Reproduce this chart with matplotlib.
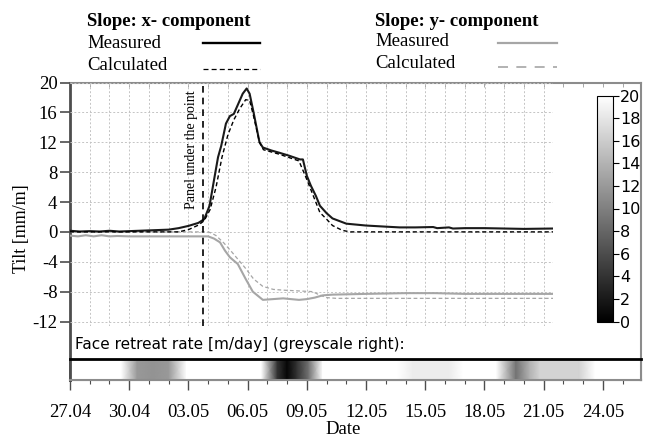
import numpy as np
import matplotlib.pyplot as plt
from matplotlib.lines import Line2D
import matplotlib as mpl

# days counted from 27.04
tick_days = [0, 3, 6, 9, 12, 15, 18, 21, 24, 27]
tick_labels = ['27.04', '30.04', '03.05', '06.05', '09.05', '12.05',
               '15.05', '18.05', '21.05', '24.05']

x_meas_days = [0, 0.5, 1, 1.5, 2, 2.5, 3, 3.5, 4, 4.5, 5, 5.5, 6.0, 6.5, 6.8,
               7.07, 7.3, 7.5, 7.66, 7.9, 8.1, 8.3, 8.5, 8.75, 8.95, 9.1, 9.3,
               9.6, 9.77, 10.2, 10.6, 11.1, 11.65, 11.8, 12.0, 12.2, 12.46,
               12.66, 13.0, 13.3, 14.0, 15.0, 16.0, 16.7, 17.5, 18.4, 18.6,
               19.2, 19.4, 20, 21, 22, 23, 24.47]
x_meas = [0.15, 0.05, 0.1, 0.05, 0.15, 0.05, 0.1, 0.15, 0.2, 0.25, 0.3, 0.5,
          0.8, 1.2, 1.7, 3.5, 7.0, 10.0, 11.5, 14.5, 15.5, 15.8, 17.0, 18.5,
          19.2, 18.5, 16.0, 12.0, 11.3, 10.9, 10.6, 10.2, 9.7, 9.7, 7.5, 6.2,
          4.8, 3.5, 2.5, 1.8, 1.1, 0.85, 0.7, 0.6, 0.6, 0.65, 0.5, 0.6, 0.45,
          0.5, 0.5, 0.45, 0.4, 0.45]

x_calc_days = [0, 5.5, 6.0, 6.5, 6.8, 7.1, 7.4, 7.7, 8.0, 8.3, 8.6, 8.9, 9.1,
               9.3, 9.6, 9.8, 10.6, 11.6, 12.0, 12.3, 12.66, 13.0, 13.3, 13.8,
               14.2, 24.47]
x_calc = [0, 0, 0.3, 0.9, 1.5, 3.0, 6.0, 10.0, 13.0, 15.0, 16.5, 17.7, 17.6,
          15.5, 12.0, 11.0, 10.4, 9.5, 7.0, 5.0, 2.6, 1.7, 0.85, 0.2, 0, 0]

y_meas_days = [0, 0.4, 0.8, 1.2, 1.6, 2.0, 2.4, 3, 5, 7.0, 7.3, 7.6, 7.85, 8.1,
               8.5, 8.9, 9.26, 9.77, 10.8, 11.6, 12.0, 12.4, 12.8, 13.3, 15,
               17, 18.5, 20, 22, 24.47]
y_meas = [-0.5, -0.6, -0.45, -0.6, -0.45, -0.6, -0.55, -0.6, -0.6, -0.6, -0.9,
          -1.4, -2.5, -3.4, -4.3, -6.3, -8.0, -9.1, -8.9, -9.1, -9.0, -8.8,
          -8.5, -8.4, -8.3, -8.2, -8.2, -8.3, -8.3, -8.3]

y_calc_days = [0, 7.0, 7.2, 7.4, 7.8, 8.2, 8.9, 9.3, 9.77, 10.3, 10.8, 12.3,
               12.6, 13.0, 13.5, 24.47]
y_calc = [0, 0, -0.2, -0.5, -1.5, -2.7, -4.9, -6.3, -7.3, -7.7, -7.8, -8.0,
          -8.4, -8.8, -8.9, -8.9]

panel_day = 6.75

# face retreat rate [m/day] along the time axis
rate_days = [0, 2.6, 3.4, 4.2, 5.0, 5.9, 9.7, 10.5, 11.0, 11.5, 12.1, 12.8,
             16.6, 17.4, 19.2, 19.9, 21.6, 22.6, 23.3, 23.8, 25.8, 26.6, 28.93]
rate = [20, 20, 12, 11.5, 12, 20, 20, 4, 0.5, 4, 9, 20,
        20, 18.5, 18.5, 20, 20, 9, 14, 16.5, 16.5, 20, 20]

W, H = 646, 438
def box(x0, y0, x1, y1):
    return [x0 / W, 1 - y1 / H, (x1 - x0) / W, (y1 - y0) / H]

serif = 'Liberation Serif'
sans = 'DejaVu Sans'
dark = '#4d4d4d'
frame_c = '#8c8c8c'
grey_line = '#a6a6a6'

fig = plt.figure(figsize=(W / 100, H / 100), dpi=100)

# outer frame
fr = fig.add_axes(box(70, 82.5, 641, 380))
fr.set_xlim(0, 28.93)
fr.set_ylim(0, 1)
fr.set_yticks([])
fr.set_xticks(np.arange(1, 29))
fr.tick_params(axis='x', bottom=False, labelbottom=False, top=True,
               direction='in', length=3, color='#999999', width=0.6)
for s in ['top', 'right', 'bottom']:
    fr.spines[s].set_color(frame_c)
    fr.spines[s].set_linewidth(1.5)
fr.spines['left'].set_color(dark)
fr.spines['left'].set_linewidth(2)

# main plot
ax = fig.add_axes(box(70, 82.5, 553, 326))
ax.patch.set_alpha(0)
ax.set_xlim(0, 24.47)
ax.set_ylim(-12.6, 20)
for s in ax.spines.values():
    s.set_visible(False)
ax.set_yticks(np.arange(-12, 21, 4))
ax.set_yticklabels([str(v) for v in range(-12, 21, 4)], family=serif, fontsize=13.5)
ax.tick_params(axis='y', direction='out', length=7, color=dark, width=1.2, pad=2)
ax.set_xticks(np.arange(1, 25), minor=False)
ax.tick_params(axis='x', bottom=False, labelbottom=False)
ax.grid(True, color='#c4c4c4', linestyle=(0, (2, 2)), linewidth=0.7)
ax.set_axisbelow(True)

ax.plot(y_meas_days, y_meas, color=grey_line, lw=1.5)
ax.plot(y_calc_days, y_calc, color=grey_line, lw=0.9, dashes=(3, 2))
ax.plot(x_meas_days, x_meas, color='#1a1a1a', lw=1.5)
ax.plot(x_calc_days, x_calc, color='black', lw=1.0, dashes=(3, 2))
ax.axvline(panel_day, color='black', lw=1.2, dashes=(4, 3))
ax.text(panel_day - 0.6, 11.0, 'Panel under the point', rotation=90,
        ha='center', va='center', family=serif, fontsize=10)
fig.text(22 / W, 1 - 229 / H, 'Tilt [mm/m]', rotation=90, ha='center',
         va='center', family=serif, fontsize=13)

# colour bar
cax = fig.add_axes(box(597, 95.5, 613, 321.5))
sm = mpl.cm.ScalarMappable(norm=mpl.colors.Normalize(0, 20), cmap='gray')
cb = fig.colorbar(sm, cax=cax, ticks=range(0, 21, 2))
cb.outline.set_linewidth(0.8)
cax.tick_params(length=4, width=0.8, pad=1, labelsize=11.5)
for t in cax.get_yticklabels():
    t.set_family(sans)

# face retreat strip
fig.text(75 / W, 1 - 344 / H, 'Face retreat rate [m/day] (greyscale right):',
         va='center', ha='left', family=sans, fontsize=11)
st = fig.add_axes(box(70, 359, 641, 380))
rd = np.array(rate_days)
X = np.vstack([rd, rd])
Y = np.vstack([np.zeros_like(rd), np.ones_like(rd)])
C = np.vstack([rate, rate])
st.pcolormesh(X, Y, C, shading='gouraud', cmap='gray', vmin=0, vmax=20)
st.set_xlim(0, 28.93)
st.set_ylim(0, 1)
st.set_yticks([])
st.set_xticks(tick_days)
st.set_xticklabels(tick_labels, family=serif, fontsize=13.5)
st.set_xticks(np.arange(0, 29), minor=True)
st.tick_params(axis='x', which='major', length=7, color=dark, width=1, pad=10)
st.tick_params(axis='x', which='minor', length=3, color=dark, width=0.8)
st.spines['top'].set_color('black')
st.spines['top'].set_linewidth(2)
for s in ['right', 'bottom']:
    st.spines[s].set_color(frame_c)
    st.spines[s].set_linewidth(1.5)
st.spines['left'].set_color(dark)
st.spines['left'].set_linewidth(2)
fig.text(343 / W, 1 - 438 / H, 'Date', ha='center', va='bottom',
         family=serif, fontsize=13.5)

# legend (drawn by hand, text left and sample right)
fig.text(87 / W, 1 - 21 / H, 'Slope: x- component', ha='left', va='center',
         family=serif, fontsize=13.5, fontweight='bold')
fig.text(87 / W, 1 - 43 / H, 'Measured', ha='left', va='center',
         family=serif, fontsize=13.5)
fig.text(87 / W, 1 - 66 / H, 'Calculated', ha='left', va='center',
         family=serif, fontsize=13.5)
fig.add_artist(Line2D([203 / W, 260 / W], [1 - 42.7 / H] * 2, color='black', lw=1.7))
fig.add_artist(Line2D([203 / W, 260 / W], [1 - 69.3 / H] * 2, color='black',
                      lw=0.9, dashes=(4, 2.5)))

fig.text(375 / W, 1 - 21 / H, 'Slope: y- component', ha='left', va='center',
         family=serif, fontsize=13.5, fontweight='bold')
fig.text(375 / W, 1 - 42 / H, 'Measured', ha='left', va='center',
         family=serif, fontsize=13.5)
fig.text(375 / W, 1 - 64 / H, 'Calculated', ha='left', va='center',
         family=serif, fontsize=13.5)
fig.add_artist(Line2D([498 / W, 557 / W], [1 - 42.7 / H] * 2, color=grey_line, lw=1.6))
fig.add_artist(Line2D([498 / W, 557 / W], [1 - 66.7 / H] * 2, color=grey_line,
                      lw=1.2, dashes=(6, 5)))

fig.savefig('out.png', dpi=100)
